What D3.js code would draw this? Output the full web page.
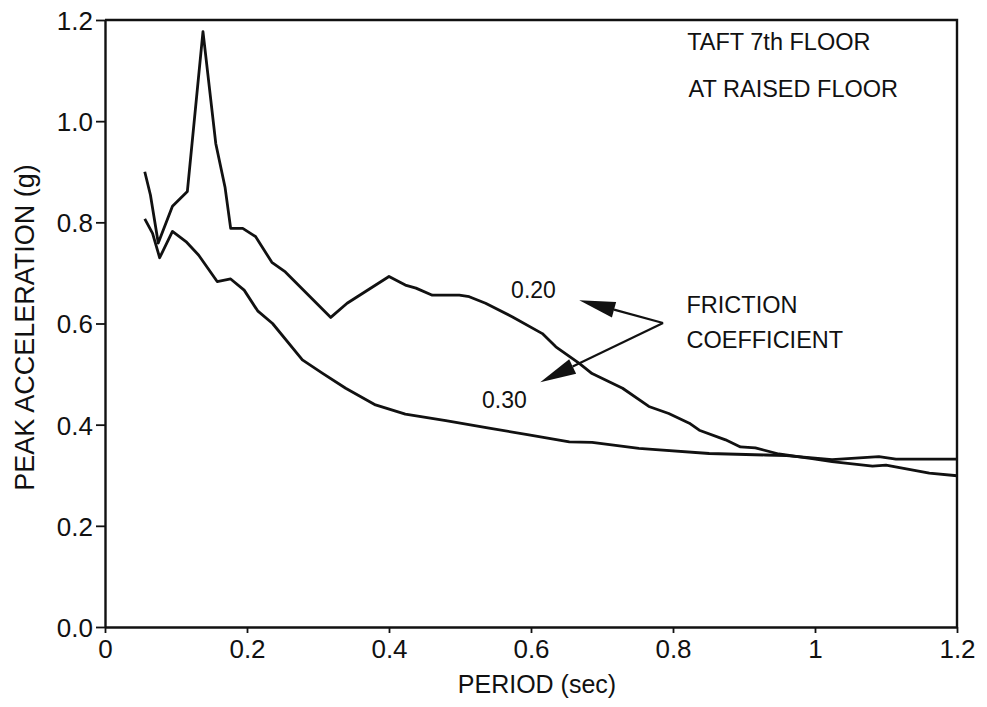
<!DOCTYPE html>
<html>
<head>
<meta charset="utf-8">
<script src="https://cdn.jsdelivr.net/npm/d3@7/dist/d3.min.js"></script>
<style>
  html, body { margin: 0; padding: 0; background: #fff; }
  svg { display: block; }
  text { font-family: "Liberation Sans", Arial, Helvetica, sans-serif; fill: #111; }
</style>
</head>
<body>
<svg id="chart" width="987" height="707"></svg>
<script>
// Peak floor acceleration vs. isolation period, for two friction coefficients
const periods020 = [0.056, 0.064, 0.075, 0.095, 0.116, 0.138, 0.156, 0.169, 0.177, 0.194,
  0.212, 0.235, 0.254, 0.318, 0.341, 0.400, 0.423, 0.438, 0.461, 0.499, 0.513, 0.536,
  0.574, 0.616, 0.635, 0.668, 0.686, 0.729, 0.766, 0.794, 0.823, 0.837, 0.874, 0.895,
  0.916, 0.949, 0.996, 1.024, 1.081, 1.100, 1.161, 1.200];
const accel020 = [0.900, 0.854, 0.759, 0.832, 0.861, 1.177, 0.956, 0.870, 0.788, 0.788,
  0.772, 0.721, 0.702, 0.612, 0.640, 0.693, 0.676, 0.670, 0.656, 0.656, 0.653, 0.640,
  0.613, 0.580, 0.554, 0.521, 0.501, 0.472, 0.436, 0.422, 0.403, 0.389, 0.370, 0.356,
  0.354, 0.342, 0.333, 0.327, 0.318, 0.320, 0.304, 0.299];

const periods030 = [0.056, 0.067, 0.077, 0.095, 0.114, 0.132, 0.158, 0.177, 0.196, 0.215,
  0.236, 0.278, 0.306, 0.339, 0.381, 0.423, 0.480, 0.541, 0.597, 0.654, 0.686, 0.752,
  0.771, 0.851, 0.930, 0.960, 1.024, 1.090, 1.114, 1.200];
const accel030 = [0.807, 0.778, 0.730, 0.782, 0.762, 0.735, 0.683, 0.688, 0.666, 0.625,
  0.600, 0.528, 0.502, 0.472, 0.439, 0.421, 0.408, 0.393, 0.380, 0.366, 0.365, 0.353,
  0.351, 0.343, 0.340, 0.339, 0.331, 0.337, 0.332, 0.332];

const xTicks = [0, 0.2, 0.4, 0.6, 0.8, 1.0, 1.2];
const xTickLabels = ["0", "0.2", "0.4", "0.6", "0.8", "1", "1.2"];
const yTicks = [0, 0.2, 0.4, 0.6, 0.8, 1.0, 1.2];
const yTickLabels = ["0.0", "0.2", "0.4", "0.6", "0.8", "1.0", "1.2"];

const svg = d3.select("#chart");
const x = d3.scaleLinear().domain([0, 1.2]).range([105, 957]);
const y = d3.scaleLinear().domain([0, 1.2]).range([627, 20]);

// frame (top and right edges)
svg.append("path")
  .attr("d", `M${x(0)},${y(1.2)}H${x(1.2)}V${y(0)}`)
  .attr("fill", "none").attr("stroke", "#111").attr("stroke-width", 2.4);

// axes
const xAxis = svg.append("g").attr("transform", `translate(0,${y(0)})`)
  .call(d3.axisBottom(x).tickValues(xTicks)
    .tickFormat((d, i) => xTickLabels[i]).tickSize(6).tickSizeOuter(0));
const yAxis = svg.append("g").attr("transform", `translate(${x(0)},0)`)
  .call(d3.axisLeft(y).tickValues(yTicks)
    .tickFormat((d, i) => yTickLabels[i]).tickSize(9).tickSizeOuter(0));

[xAxis, yAxis].forEach(g => {
  g.select(".domain").attr("stroke", "#111").attr("stroke-width", 2.4);
  g.selectAll(".tick line").attr("stroke", "#111").attr("stroke-width", 1.8);
  g.selectAll(".tick text").style("font-size", "26px").attr("fill", "#111");
});
xAxis.selectAll(".tick text").attr("dy", "0.72em").attr("y", 12);
yAxis.selectAll(".tick text").attr("x", -12).attr("dy", "0.36em");

// axis titles
svg.append("text")
  .attr("x", (x(0) + x(1.2)) / 2 + 6).attr("y", 693)
  .attr("text-anchor", "middle").style("font-size", "25px")
  .text("PERIOD (sec)");
svg.append("text")
  .attr("transform", `translate(34,${(y(0) + y(1.2)) / 2 + 4}) rotate(-90)`)
  .attr("text-anchor", "middle").style("font-size", "27px")
  .text("PEAK ACCELERATION (g)");

// response curves
const line = d3.line().x(d => x(d[0])).y(d => y(d[1]));
const series = [
  d3.zip(periods020, accel020),
  d3.zip(periods030, accel030)
];
svg.selectAll("path.curve").data(series).enter().append("path")
  .attr("class", "curve")
  .attr("d", line)
  .attr("fill", "none").attr("stroke", "#111")
  .attr("stroke-width", 2.8).attr("stroke-linejoin", "round");

// annotations
const note = (px, py, str, size) => svg.append("text")
  .attr("x", x(px)).attr("y", y(py)).style("font-size", size + "px").text(str);

note(0.820, 1.140, "TAFT 7th FLOOR", 23.5);
note(0.822, 1.047, "AT RAISED FLOOR", 23.5);
note(0.572, 0.650, "0.20", 23);
note(0.531, 0.433, "0.30", 23);
note(0.819, 0.621, "FRICTION", 23.5);
note(0.819, 0.552, "COEFFICIENT", 23.5);

// leader arrows to the two curve labels
const hub = [0.786, 0.601];
const tips = [[0.668, 0.646], [0.613, 0.484]];
tips.forEach(t => {
  const x1 = x(hub[0]), y1 = y(hub[1]), x2 = x(t[0]), y2 = y(t[1]);
  const ang = Math.atan2(y2 - y1, x2 - x1);
  const len = 36, half = 8;
  const bx = x2 - len * Math.cos(ang), by = y2 - len * Math.sin(ang);
  svg.append("line")
    .attr("x1", x1).attr("y1", y1).attr("x2", bx).attr("y2", by)
    .attr("stroke", "#111").attr("stroke-width", 2.2);
  const px = -Math.sin(ang) * half, py = Math.cos(ang) * half;
  svg.append("path")
    .attr("d", `M${x2},${y2}L${bx + px},${by + py}L${bx - px},${by - py}Z`)
    .attr("fill", "#111");
});
</script>
</body>
</html>
